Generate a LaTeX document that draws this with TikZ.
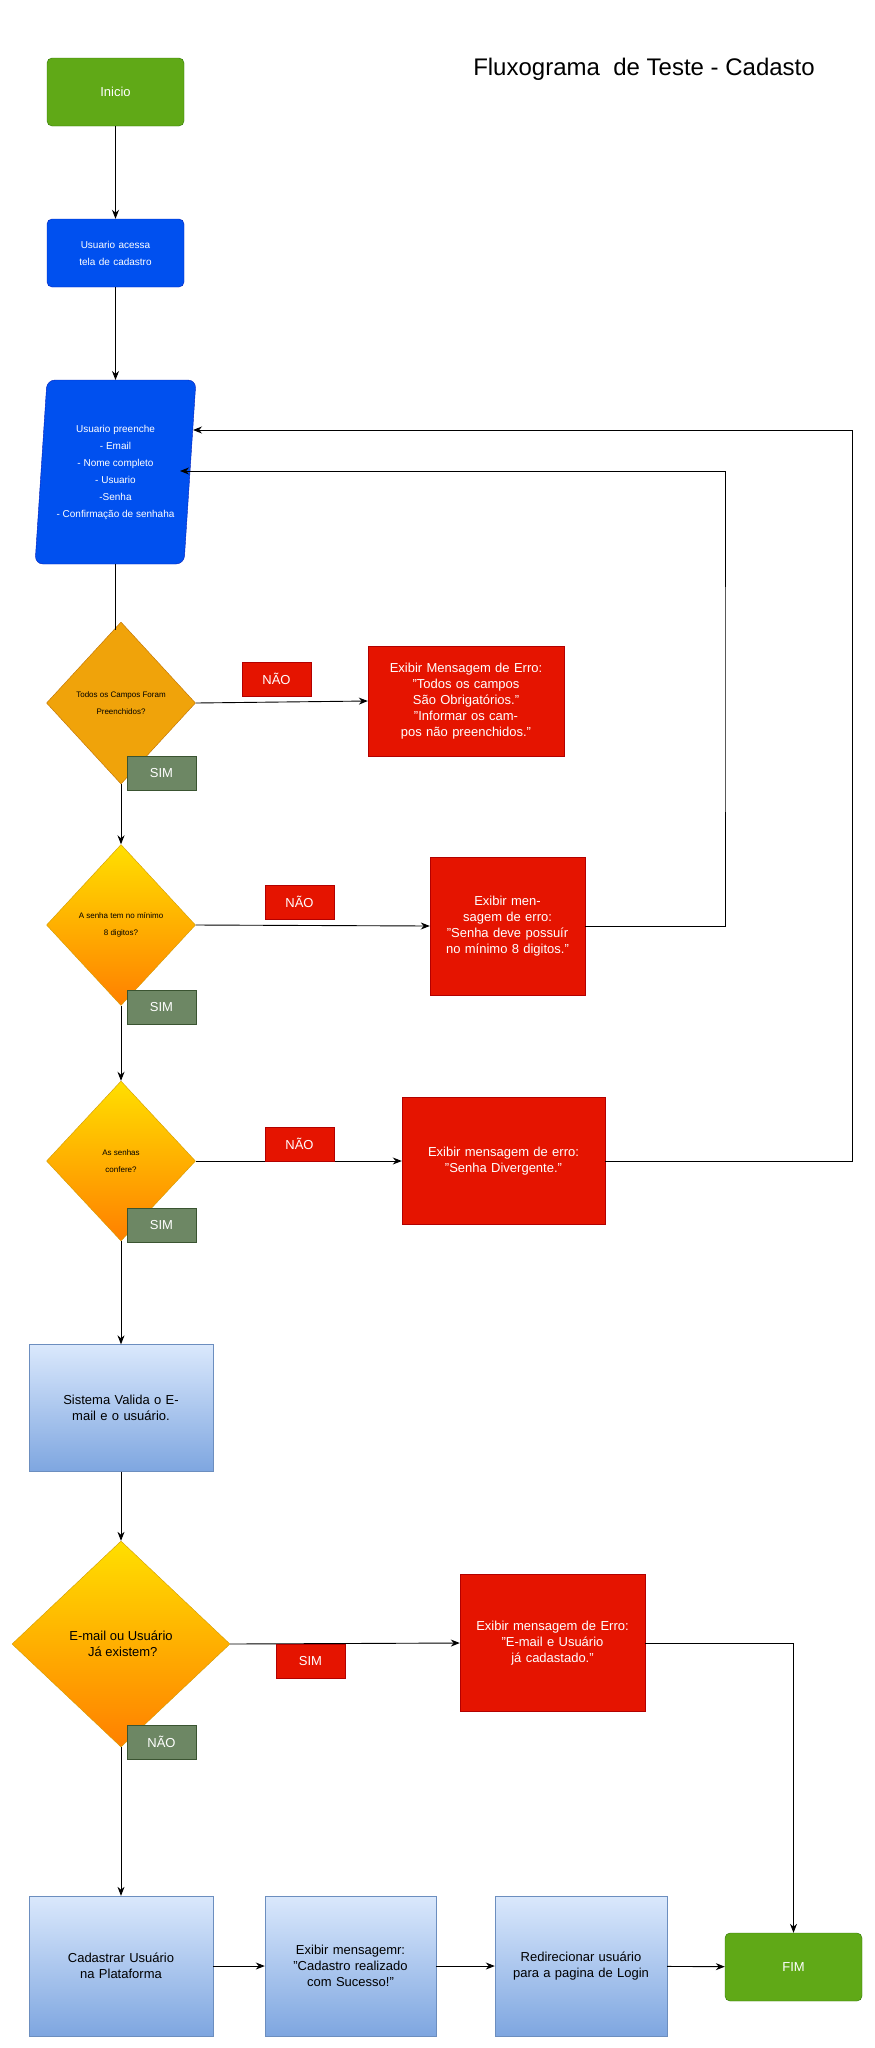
\documentclass[tikz,border=0pt]{standalone}
\usetikzlibrary{shapes.geometric,arrows.meta}
\usepackage{fontspec}
\setmainfont{Liberation Sans}
\definecolor{verde}{HTML}{60A917}
\definecolor{verdeb}{HTML}{2D7600}
\definecolor{azul}{HTML}{0050EF}
\definecolor{azulb}{HTML}{001DBC}
\definecolor{verm}{HTML}{E51400}
\definecolor{vermb}{HTML}{B20000}
\definecolor{oliva}{HTML}{6D8764}
\definecolor{olivab}{HTML}{3A5431}
\definecolor{laranja}{HTML}{F0A30A}
\definecolor{laranjab}{HTML}{BD7000}
\definecolor{celeste}{HTML}{DAE8FC}
\definecolor{celested}{HTML}{7EA6E0}
\definecolor{celesteb}{HTML}{6C8EBF}
\tikzset{
  inicio/.style={draw=verdeb,fill=verde,rounded corners=5pt,text=white,
    minimum width=137pt,minimum height=68pt,font=\fontsize{13}{16}\selectfont},
  tela/.style={draw=azulb,fill=azul,rounded corners=5pt,text=white,
    minimum width=137pt,minimum height=68pt,align=center,text width=125pt,
    font=\fontsize{10}{17}\selectfont},
  erro/.style={draw=vermb,fill=verm,text=white,align=center,inner sep=0pt,
    font=\fontsize{13}{16}\selectfont},
  decisao/.style={diamond,draw=laranjab,fill=laranja,aspect=0.92,inner sep=0pt,
    align=center,font=\fontsize{8}{17}\selectfont},
  decisaog/.style={decisao,fill=none,top color=yellow!75!orange,bottom color=orange,
    draw=laranjab!70!yellow},
  sim/.style={draw=olivab,fill=oliva,text=white,minimum width=69pt,
    minimum height=34pt,font=\fontsize{13}{16}\selectfont},
  nao/.style={draw=vermb,fill=verm,text=white,minimum width=69pt,
    minimum height=34pt,font=\fontsize{13}{16}\selectfont},
  sistema/.style={draw=celesteb,top color=celeste,bottom color=celested,
    align=center,inner sep=0pt,font=\fontsize{13}{16}\selectfont},
  seta/.style={-{Stealth[length=9pt,width=7pt]},line width=0.9pt},
  linha/.style={line width=0.9pt}
}
\begin{document}
\begin{tikzpicture}[x=1pt,y=-1pt]
  \useasboundingbox (0,0) rectangle (875,2048);
  \node at (644,69) {\fontsize{24}{28}\selectfont Fluxograma\ \ de Teste - Cadasto};

  % inicio e tela
  \node[inicio] (inicio) at (115.5,92) {Inicio};
  \node[tela] (tela) at (115.5,253) {Usuario acessa tela de cadastro};

  % entrada de dados
  \draw[draw=azulb,fill=azul,rounded corners=8pt]
    (47,380) -- (196,380) -- (184,564) -- (35,564) -- cycle;
  \node[inner sep=0pt,minimum width=150pt,minimum height=184pt,text=white,align=center,
    font=\fontsize{10}{17}\selectfont] (dados) at (115.5,472)
    {Usuario preenche\\- Email\\- Nome completo\\- Usuario\\-Senha\\- Confirmação de senhaha};
  \coordinate (ent1) at (193,430);
  \coordinate (ent2) at (180,471);

  % decisoes
  \node[decisao,minimum width=149pt,minimum height=162pt] (campos) at (121,703)
    {Todos os Campos Foram\\Preenchidos?};
  \node[decisaog,minimum width=149pt,minimum height=161pt] (minimo) at (121,925)
    {A senha tem no mínimo\\8 digitos?};
  \node[decisaog,minimum width=149pt,minimum height=160pt] (confere) at (121,1161)
    {As senhas\\confere?};
  \node[sistema,minimum width=184pt,minimum height=127pt,text width=175pt] (valida) at (121,1408)
    {Sistema Valida o E-mail e o usuário.};
  \node[decisaog,minimum width=218pt,minimum height=206pt,font=\fontsize{13}{16}\selectfont] (existe) at (121,1644)
    {E-mail ou Usuário\\\ Já existem?};

  % mensagens de erro
  \node[erro,minimum width=196pt,minimum height=110pt,text width=185pt] (erro1) at (466,701)
    {Exibir Mensagem de Erro:\\"Todos os campos São Obrigatórios."\\"Informar os campos não preenchidos."};
  \node[erro,minimum width=155pt,minimum height=138pt,text width=150pt] (erro2) at (507.5,926)
    {Exibir mensagem de erro:\\"Senha deve possuír no mínimo 8 digitos."};
  \node[erro,minimum width=203pt,minimum height=127pt,text width=195pt] (erro3) at (503.5,1161)
    {Exibir mensagem de erro:\\"Senha Divergente."};
  \node[erro,minimum width=185pt,minimum height=137pt,text width=165pt] (erro4) at (552.5,1643)
    {Exibir mensagem de Erro:\\"E-mail e Usuário já cadastado."};

  % final
  \node[sistema,minimum width=184pt,minimum height=140pt,text width=175pt] (cadastrar) at (121,1966)
    {Cadastrar Usuário\\na Plataforma};
  \node[sistema,minimum width=171pt,minimum height=140pt,text width=165pt] (sucesso) at (350.5,1966)
    {Exibir mensagemr:\\"Cadastro realizado com Sucesso!"};
  \node[sistema,minimum width=172pt,minimum height=140pt,text width=165pt] (login) at (581,1966)
    {Redirecionar usuário para a pagina de Login};
  \node[inicio] (fim) at (793.5,1967) {FIM};

  % conexoes
  \draw[seta] (inicio) -- (tela);
  \draw[seta] (tela) -- (115.5,380);
  \draw[linha] (115.5,564) -- (115.5,630);
  \draw[seta] (campos.east) -- (erro1.west);
  \draw[seta] (campos.south) -- (minimo.north);
  \draw[seta] (minimo.east) -- (erro2.west);
  \draw[seta] (minimo.south) -- (confere.north);
  \draw[seta] (confere.east) -- (erro3.west);
  \draw[seta] (confere.south) -- (valida.north);
  \draw[seta] (valida.south) -- (existe.north);
  \draw[seta] (existe.east) -- (erro4.west);
  \draw[seta] (existe.south) -- (cadastrar.north);
  \draw[seta] (erro2.east) -| (725,700) |- (ent2);
  \draw[seta] (erro3.east) -| (852,700) |- (ent1);
  \draw[seta] (erro4.east) -| (fim.north);
  \draw[seta] (cadastrar) -- (sucesso);
  \draw[seta] (sucesso) -- (login);
  \draw[seta] (login) -- (fim);

  % rotulos
  \node[nao] (nao1) at (276.5,679) {NÃO};
  \node[sim] (sim1) at (161.5,773) {SIM};
  \node[nao] (nao2) at (299.5,902) {NÃO};
  \node[sim] (sim2) at (161.5,1007) {SIM};
  \node[nao] (nao3) at (299.5,1144) {NÃO};
  \node[sim] (sim3) at (161.5,1225) {SIM};
  \node[nao,fill=verm] (sim4) at (310.5,1661) {SIM};
  \node[sim] (nao4) at (161.5,1742) {NÃO};
\end{tikzpicture}
\end{document}
